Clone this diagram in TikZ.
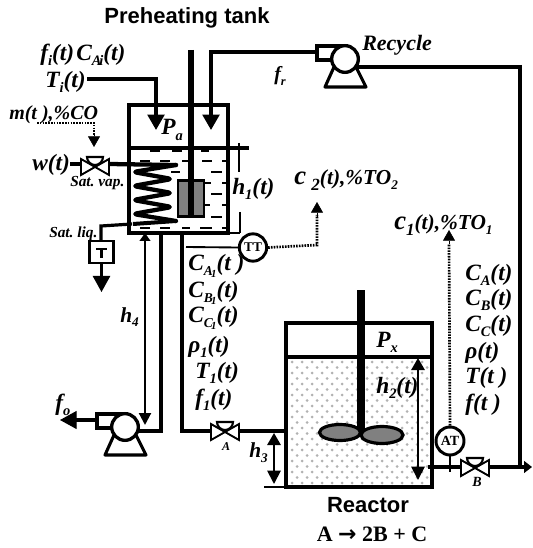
\documentclass[tikz,border=0pt]{standalone}
\usepackage{fontspec}
\setmainfont{Liberation Serif}
\newfontfamily\arialb{Liberation Sans}
\usetikzlibrary{arrows.meta,calc}
\newcommand{\sbx}[1]{\raisebox{-0.22em}{\scalebox{0.62}{#1}}}
\newcommand{\dsb}[1]{\raisebox{-0.2em}{\scalebox{0.58}{#1\kern-.12em\raisebox{-.12em}{\scalebox{.8}{1}}}}}
\tikzset{
  pipe/.style={line width=2.4pt,line join=miter},
  sig/.style={line width=2pt,dash pattern=on 1.2pt off 0.9pt},
  big head/.style={-{Triangle[length=11.5pt,width=12.5pt]}},
  mid head/.style={-{Triangle[length=8pt,width=9pt]}},
  lab/.style={inner sep=0pt,font=\fontsize{17.5pt}{18pt}\selectfont\bfseries\itshape},
  slab/.style={inner sep=0pt,font=\fontsize{11.5pt}{12pt}\selectfont\bfseries\itshape},
  title/.style={inner sep=0pt,font=\arialb\fontsize{16.5pt}{18pt}\selectfont\bfseries},
  inst/.style={circle,draw,line width=2.2pt,fill=white,minimum size=20.5pt,inner sep=0pt,font=\fontsize{10pt}{11pt}\selectfont\bfseries},
  dash row/.style={line width=1.8pt},
}
\newcommand{\valve}[3]{% name, x, y
  \begin{scope}[shift={(#2,#3)}]
    \coordinate (#1L) at (-14,-1); \coordinate (#1R) at (14,-1);
    \draw[line width=1.4pt,line join=miter,fill=white] (-14,-8) -- (14,8) -- (14,-8) -- (-14,8) -- cycle;
    \draw[line width=1.6pt] (0,0) -- (0,-10);
    \draw[line width=1.6pt,fill=white] (-8,-10) -- (8,-10) arc (0:180:8) -- cycle;
  \end{scope}}
\newcommand{\pump}[3]{% name, x, y
  \begin{scope}[shift={(#2,#3)}]
    \draw[line width=2.3pt,line join=round] (-11,8) -- (-20,28) -- (21,28) -- (11,8);
    \draw[line width=2.3pt,fill=white] (-28,-13) rectangle (-5,1);
    \draw[line width=2.3pt] (-10,-13) -- (3,-13);
    \node[circle,draw,line width=2.5pt,fill=white,minimum size=20pt,inner sep=0pt] (#1) at (0,0) {};
  \end{scope}}
\begin{document}
\begin{tikzpicture}[x=0.75pt,y=-0.75pt]
\useasboundingbox (0,0) rectangle (532,548);
% ---- preheating tank
\node[title] (t1) at (187,18) {Preheating tank};
\foreach \x/\y/\l in {
 150/151/10,172/151/10,201/151/8,
 140/161/10,160/161/10,182/161/6,202/161/10,222/161/4,
 171/172/9,211/172/11,
 205/183/6,222/183/4,
 211/194/11,
 205/205/5,222/205/4,
 211/217/11,
 140/228/10,160/228/10,182/228/8,200/228/12,222/228/4}
  \draw[dash row] (\x,\y) -- ++(\l,0);
% coil
\draw[line width=3.2pt,line join=round,line cap=round,rounded corners=3pt]
 (176,165) -- (133,172) -- (172,179) -- (133,186) -- (172,193) -- (133,200)
 -- (172,207) -- (133,214) -- (176,221);
\draw[line width=3.2pt,line cap=round] (109,164) -- (176,165);
\draw[line width=3pt] (176,221) -- (133,224);
\draw[pipe] (132,224) -- (101,226) -- (101,241);
\draw[pipe] (129,105) rectangle (228,233);
\draw[pipe] (129,148) -- (249,148);
\draw[line width=1.2pt] (239,143) -- (239,172) (240,212) -- (240,233) (228,233) -- (240,233);
% heater and shaft
\draw[line width=1.8pt,fill=gray] (178,180.5) rectangle (204,216.5);
\draw[line width=4pt] (191,50) -- (191,217);
% feed arrows
\coordinate (feedA) at (87,79);
\draw[pipe,big head] (feedA) -- (156,79) -- (156,130);
\draw[pipe,big head] (317,52) -- (211,52) -- (211,130);
% pumps
\pump{recyclep}{345}{59}
\pump{drain}{125}{427}
% recycle line
\draw[pipe] (357,67) -- (520,67);
\draw[line width=3pt] (520,65) -- (520,467);
% tank labels
\node[lab,anchor=west] (fi) at (40,55) {f\sbx{i}(t)\kern.1em C\sbx{A\kern-.15em i}(t)};
\node[lab,anchor=west] (ti) at (45,82) {T\sbx{i}(t)};
\node[lab,anchor=west] (pa) at (161,130) {P\sbx{a}};
\node[lab,anchor=west] (h1) at (232,189) {h\sbx{1}(t)};
\node[lab,anchor=west,font=\fontsize{15pt}{16pt}\selectfont\bfseries\itshape] (mt) at (9,115) {m(t ),\%CO};
\node[lab,anchor=west] (wt) at (32,165) {w(t)};
\node[slab,anchor=west] (sv) at (70,183) {Sat.\ vap.};
\node[slab,anchor=west] (sl) at (49,234) {Sat.\ liq.};
% control valve on steam
\draw[sig] (37,123) -- (94,123) -- (94,136);
\draw[mid head] (94,134) -- (94,147);
\valve{vs}{95}{167}
\draw[pipe] (70,164) -- (82,164);
% steam trap
\node[draw,line width=2.2pt,fill=white,minimum width=18pt,minimum height=16.5pt,inner sep=0pt] (trap) at (101.5,252) {};
\draw[line width=1.6pt] (96,249) -- (107,249) (101.5,249) -- (101.5,258);
\draw[pipe] (trap.south) -- (101.5,277);
\draw[-{Triangle[length=12pt,width=13pt]},line width=1pt] (101.5,276) -- (101.5,292);
% h4
\draw[line width=1.6pt,{Triangle[length=6pt,width=8pt]}-{Triangle[length=9pt,width=9pt]}] (145,233) -- (145,425);
\node[lab,anchor=west,font=\fontsize{16pt}{17pt}\selectfont\bfseries\itshape] (h4) at (120,317) {h\sbx{4}};
% outlet pipes
\draw[pipe] (161,233) -- (161,431) -- (138,431);
\draw[pipe] (182,233) -- (182,431) -- (211,431);
\valve{va}{225}{432}
\draw[pipe] (vaR) -- (285,431);
\node[slab,font=\fontsize{9pt}{10pt}\selectfont\bfseries\itshape] (la) at (226,447) {A};
% drain
\draw[pipe] (97,420) -- (75,420);
\draw[-{Triangle[length=12.5pt,width=13.5pt]},line width=1pt] (78,420) -- (60,420);
\node[lab,anchor=west] (fo) at (55,405) {f\sbx{o}};
\node[lab,anchor=west,font=\fontsize{15pt}{16pt}\selectfont\bfseries\itshape] (fr) at (274,76) {f\sbx{r}};
\node[lab,anchor=west,font=\fontsize{16.5pt}{17pt}\selectfont\bfseries\itshape] (rec) at (362,45) {Recycle};
% TT
\node[inst] (tt) at (253,247.5) {TT};
\draw[line width=1.4pt] (186,247) -- (tt.west);
\draw[sig] (tt.east) -- (317,245) -- (317,215);
\draw[mid head] (317,217) -- (317,202);
\node[lab,anchor=west,font=\fontsize{16pt}{17pt}\selectfont\bfseries\itshape] (c2) at (294,180) {{\fontsize{20pt}{20pt}\selectfont c} \raisebox{-.25em}{\scalebox{.8}{2}}(t),\%TO\sbx{2}};
% labels column 1
\foreach \nm/\x/\y/\t in {ca/188/266/{C\dsb{A}(t )},cb/188/293/{C\dsb{B}(t)},cc/188/318/{C\dsb{C}(t)},
   rh/188/347/{ρ\sbx{1}(t)},tm/195/373/{T\sbx{1}(t)},ff/195/400/{f\sbx{1}(t)}}
  \node[lab,anchor=west] (\nm) at (\x,\y) {\t};
% labels column 2
\foreach \nm/\y/\t in {da/275/{C\sbx{A}(t)},db/300/{C\sbx{B}(t)},dc/326/{C\sbx{C}(t)},
   dr/353/{ρ(t)},dt/378/{T(t )},df/405/{f(t )}}
  \node[lab,anchor=west] (\nm) at (465,\y) {\t};
% reactor
\foreach \r in {0,...,22}{
  \pgfmathsetmacro{\yy}{362+\r*5.5}
  \pgfmathsetmacro{\xo}{mod(\r,2)*5}
  \foreach \c in {0,...,13}{
    \fill[gray!60] ({292+\xo+\c*10},\yy) circle (1.5);
  }
}
\draw[pipe] (286,323) rectangle (432,487);
\draw[pipe] (286,357) -- (432,357);
\draw[line width=6pt] (361,290) -- (361,434);
\draw[line width=2.4pt,fill=gray] (340,432.5) ellipse (20.5 and 8);
\draw[line width=2.4pt,fill=gray] (382,435) ellipse (21 and 8.5);
\node[lab,anchor=west] (px) at (376,342) {P\sbx{x}};
\node[lab,anchor=west] (h2) at (376,388) {h\sbx{2}(t)};
\draw[line width=1.4pt,{Triangle[length=9pt,width=10pt]}-{Triangle[length=10pt,width=10pt]}] (418,358) -- (418,480);
% h3
\draw[line width=1.4pt] (264,487) -- (286,487);
\draw[line width=1.4pt,{Triangle[length=9pt,width=10pt]}-{Triangle[length=10pt,width=10pt]}] (274,433) -- (274,484);
\node[lab,anchor=west,font=\fontsize{16pt}{17pt}\selectfont\bfseries\itshape] (h3) at (249,453) {h\sbx{3}};
% reactor outlet
\draw[line width=3.6pt] (428,467) -- (461,467);
\draw[line width=1.2pt] (450,456) -- (450,472);
\valve{vb}{475}{468}
\draw[line width=3.6pt] (vbR) -- (525,467);
\draw[-{Triangle[length=6pt,width=9pt]},line width=1pt] (525,467) -- (532,467);
\node[slab,font=\fontsize{10.5pt}{11pt}\selectfont\bfseries\itshape] (lb) at (477,482) {B};
\node[inst,minimum size=21pt,font=\fontsize{10.5pt}{11pt}\selectfont\bfseries] (at) at (450,441) {AT};
\draw[sig] (at.north) -- (449,244);
\draw[mid head] (449,244) -- (449,230);
\node[lab,anchor=west,font=\fontsize{16pt}{17pt}\selectfont\bfseries\itshape] (c1) at (394,225) {{\fontsize{20pt}{20pt}\selectfont c}\raisebox{-.25em}{\scalebox{.8}{1}}(t),\%TO\sbx{1}};
% titles
\node[title] (t2) at (368,505) {Reactor};
\node[inner sep=0pt,font=\fontsize{16.5pt}{17pt}\selectfont\bfseries] (rx) at (372,534) {A {\fontspec{DejaVu Sans}\bfseries →} 2B + C};
\end{tikzpicture}
\end{document}
